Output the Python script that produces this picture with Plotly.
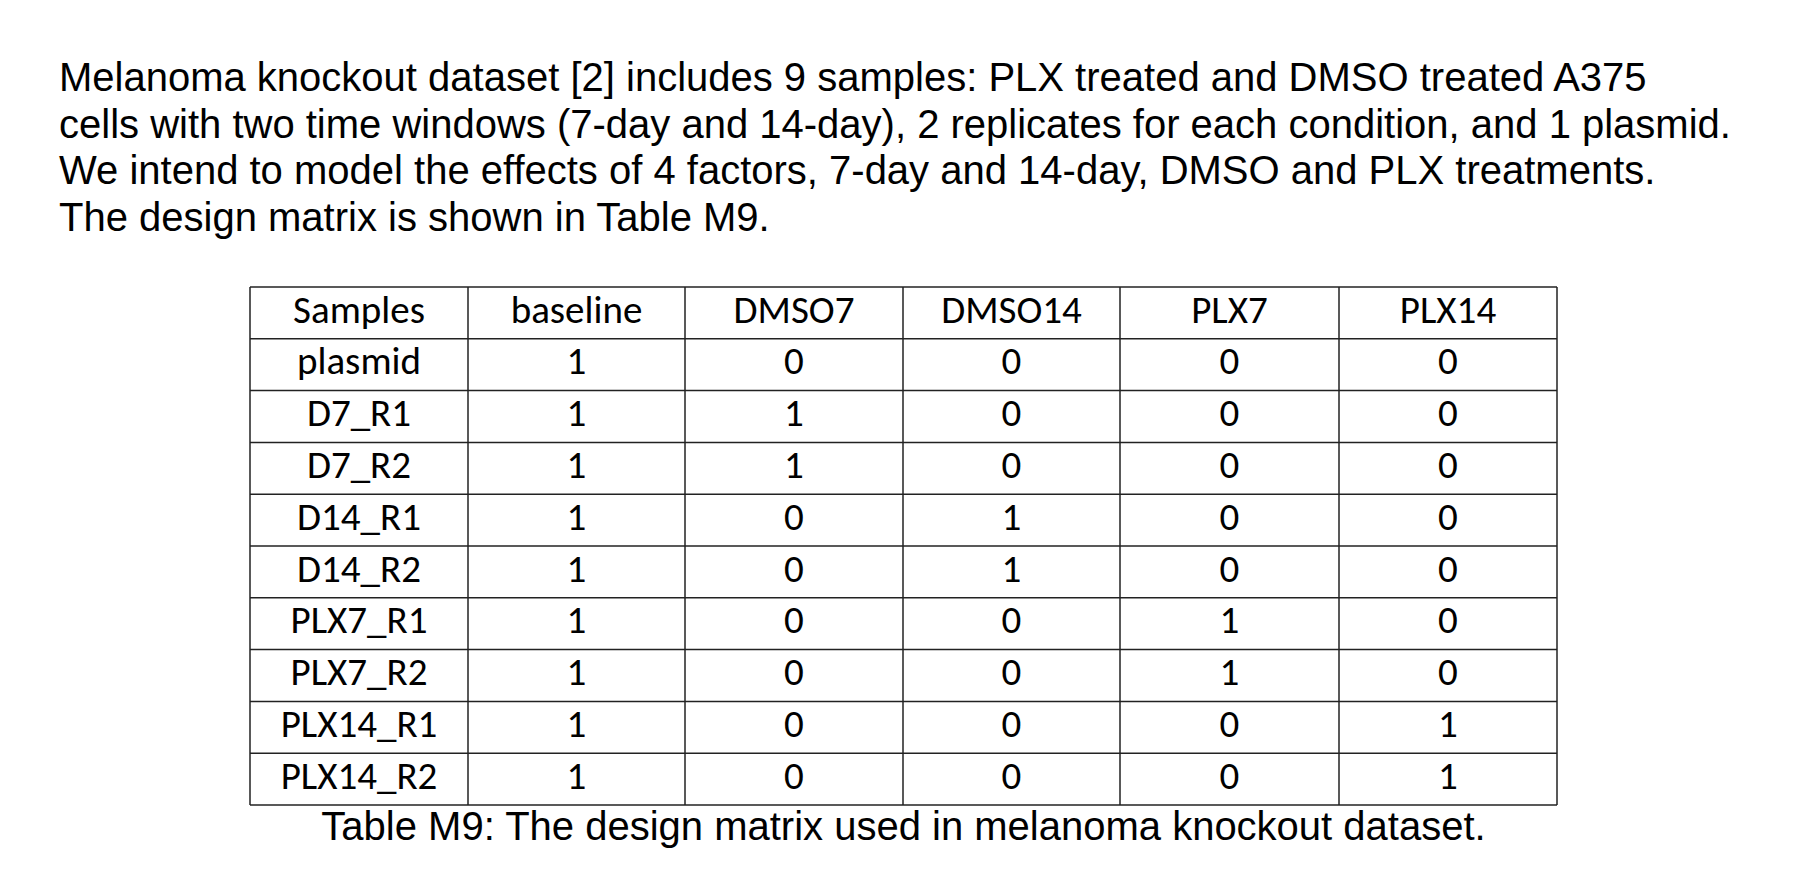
import plotly.graph_objects as go

paragraph = [
    "Melanoma knockout dataset [2] includes 9 samples: PLX treated and DMSO treated A375",
    "cells with two time windows (7-day and 14-day), 2 replicates for each condition, and 1 plasmid.",
    "We intend to model the effects of 4 factors, 7-day and 14-day, DMSO and PLX treatments.",
    "The design matrix is shown in Table M9.",
]
columns = ["Samples", "baseline", "DMSO7", "DMSO14", "PLX7", "PLX14"]
samples = ["plasmid", "D7_R1", "D7_R2", "D14_R1", "D14_R2", "PLX7_R1", "PLX7_R2", "PLX14_R1", "PLX14_R2"]
baseline = [1, 1, 1, 1, 1, 1, 1, 1, 1]
dmso7 = [0, 1, 1, 0, 0, 0, 0, 0, 0]
dmso14 = [0, 0, 0, 1, 1, 0, 0, 0, 0]
plx7 = [0, 0, 0, 0, 0, 1, 1, 0, 0]
plx14 = [0, 0, 0, 0, 0, 0, 0, 1, 1]
caption = "Table M9: The design matrix used in melanoma knockout dataset."

W, H = 1806, 882
col_edges = [242, 460, 677, 895, 1112, 1331, 1549]
top, bottom = 279, 797
nrows = len(samples) + 1
rh = (bottom - top) / nrows

fig = go.Figure()
fig.add_trace(go.Scatter(
    x=[51] * len(paragraph), y=[73 + 46.5 * i for i in range(len(paragraph))],
    text=paragraph, mode="text", textposition="middle right",
    textfont=dict(family="Liberation Sans, Arial", size=40, color="black"),
    hoverinfo="skip"))

values = [samples, baseline, dmso7, dmso14, plx7, plx14]
xs, ys, ts = [], [], []
for c, name in enumerate(columns):
    cx = (col_edges[c] + col_edges[c + 1]) / 2
    xs.append(cx); ys.append(top + rh / 2); ts.append(name)
    for r, v in enumerate(values[c]):
        xs.append(cx); ys.append(top + rh * (r + 1.5)); ts.append(str(v))
fig.add_trace(go.Scatter(x=xs, y=ys, text=ts, mode="text", textposition="middle center",
                         textfont=dict(family="Carlito, Noto Sans, Open Sans", size=39, color="black"),
                         hoverinfo="skip"))

shapes = []
for xe in col_edges:
    shapes.append(dict(type="line", x0=xe, x1=xe, y0=top, y1=bottom, xref="x", yref="y",
                       line=dict(color="#222", width=1.5)))
for r in range(nrows + 1):
    y = top + rh * r
    shapes.append(dict(type="line", x0=col_edges[0], x1=col_edges[-1], y0=y, y1=y, xref="x", yref="y",
                       line=dict(color="#222", width=1.5)))

fig.add_trace(go.Scatter(x=[(col_edges[0] + col_edges[-1]) / 2], y=[822], text=[caption], mode="text",
                         textposition="middle center",
                         textfont=dict(family="Liberation Sans, Arial", size=40, color="black"),
                         hoverinfo="skip"))

fig.update_layout(width=W, height=H, margin=dict(l=0, r=0, t=0, b=0), showlegend=False,
                  plot_bgcolor="white", paper_bgcolor="white", shapes=shapes,
                  xaxis=dict(range=[0, W], visible=False, fixedrange=True),
                  yaxis=dict(range=[H, 0], visible=False, fixedrange=True))
fig.write_html("out.html", config={"displayModeBar": False})
